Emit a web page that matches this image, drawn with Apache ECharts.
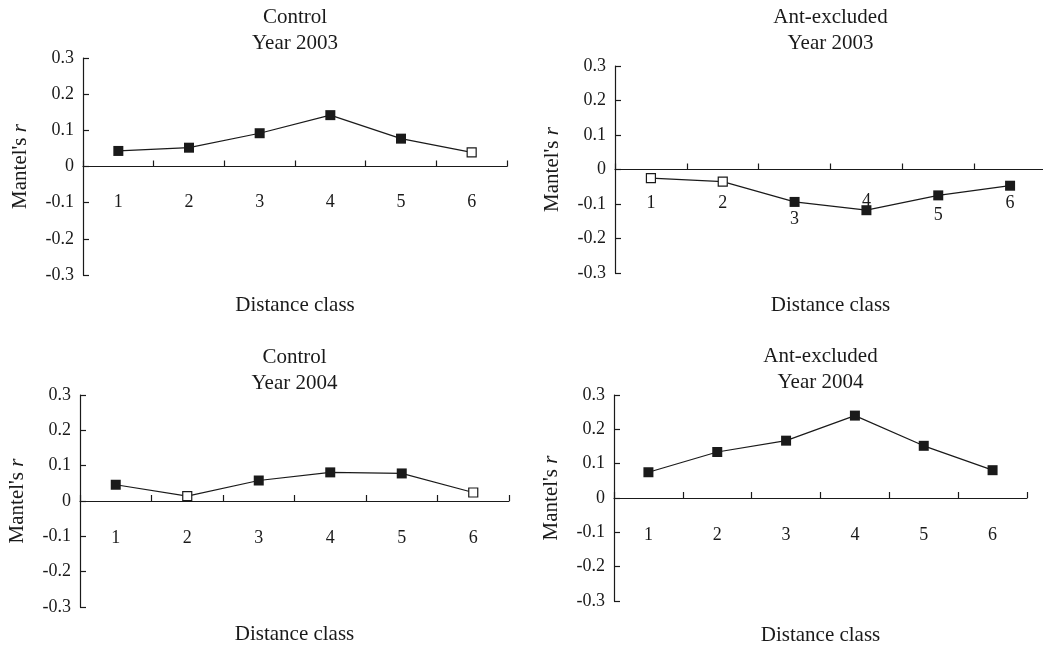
<!DOCTYPE html>
<html>
<head>
<meta charset="utf-8">
<script src="https://cdn.jsdelivr.net/npm/echarts@6/dist/echarts.min.js"></script>
<style>
  html, body { margin: 0; padding: 0; background: #fff; }
  #chart { width: 1043px; height: 645px; }
</style>
</head>
<body>
<div id="chart"></div>
<script>
// --- DATEN ---
const distanceClasses = ['1', '2', '3', '4', '5', '6'];
const yTicks = [-0.3, -0.2, -0.1, 0, 0.1, 0.2, 0.3];

// Mantel's r je Distanzklasse (gefuellt = signifikant, offen = nicht signifikant)
const control2003 = [0.043, 0.052, 0.092, 0.142, 0.077, 0.039];
const control2003Sig = [true, true, true, true, true, false];

const antExcl2003 = [-0.025, -0.035, -0.094, -0.118, -0.075, -0.047];
const antExcl2003Sig = [false, false, true, true, true, true];

const control2004 = [0.046, 0.014, 0.058, 0.081, 0.078, 0.024];
const control2004Sig = [true, false, true, true, true, false];

const antExcl2004 = [0.075, 0.134, 0.167, 0.240, 0.152, 0.081];
const antExcl2004Sig = [true, true, true, true, true, true];

// --- LAYOUT ---
const FONT = '"Liberation Serif", "Times New Roman", serif';
const INK = '#1a1a1a';
const Y_MIN = yTicks[0];
const Y_MAX = yTicks[yTicks.length - 1];

const panels = [
  { title: 'Control\nYear 2003', values: control2003, sig: control2003Sig,
    left: 83, top: 58, width: 424, height: 217, titleTop: 4, nameGap: 128, labelMargin: 27 },
  { title: 'Ant-excluded\nYear 2003', values: antExcl2003, sig: antExcl2003Sig,
    left: 615, top: 66, width: 431, height: 207, titleTop: 4, nameGap: 125, labelMargin: 25,
    labelShift: { '3': 16, '4': -2, '5': 12 } },
  { title: 'Control\nYear 2004', values: control2004, sig: control2004Sig,
    left: 80, top: 395, width: 429, height: 212, titleTop: 344, nameGap: 123, labelMargin: 28 },
  { title: 'Ant-excluded\nYear 2004', values: antExcl2004, sig: antExcl2004Sig,
    left: 614, top: 395, width: 413, height: 206, titleTop: 343, nameGap: 127, labelMargin: 28 }
];

// Beschriftung/Name der x-Achse sitzen in v6 am Gitterrand, nicht an der Null-Linie
// -> Abstand von der Null-Linie zum unteren Rand abziehen
function zeroToBottom(p) {
  return p.height * (0 - Y_MIN) / (Y_MAX - Y_MIN);
}

const chart = echarts.init(document.getElementById('chart'), null, { renderer: 'canvas' });

const option = {
  backgroundColor: '#fff',
  animation: false,
  textStyle: { fontFamily: FONT, color: INK },
  title: panels.map(p => ({
    text: p.title,
    left: p.left + p.width / 2,
    top: p.titleTop,
    textAlign: 'center',
    padding: 0,
    textStyle: { fontFamily: FONT, fontSize: 21, fontWeight: 'normal', color: INK, lineHeight: 26 }
  })),
  grid: panels.map(p => ({
    left: p.left, top: p.top, width: p.width, height: p.height,
    containLabel: false, outerBoundsMode: 'none'
  })),
  xAxis: panels.map((p, i) => ({
    type: 'category',
    gridIndex: i,
    data: distanceClasses.map(c => {
      const shift = p.labelShift && p.labelShift[c];
      return shift ? { value: c, textStyle: { padding: [shift, 0, 0, 0] } } : c;
    }),
    boundaryGap: true,
    name: 'Distance class',
    nameLocation: 'middle',
    nameGap: p.nameGap - zeroToBottom(p),
    nameTextStyle: { fontFamily: FONT, fontSize: 21, color: INK },
    axisLine: { onZero: true, lineStyle: { color: INK, width: 1.2 } },
    axisTick: { show: true, inside: true, length: 6, interval: 0, lineStyle: { color: INK, width: 1.2 } },
    axisLabel: { interval: 0, margin: p.labelMargin - zeroToBottom(p), fontFamily: FONT, fontSize: 18, color: INK },
    splitLine: { show: false }
  })),
  yAxis: panels.map((p, i) => ({
    type: 'value',
    gridIndex: i,
    min: Y_MIN,
    max: Y_MAX,
    interval: 0.1,
    name: "Mantel's {i|r}",
    nameLocation: 'middle',
    nameGap: 52,
    nameRotate: 90,
    nameTextStyle: {
      fontFamily: FONT, fontSize: 21, color: INK,
      rich: { i: { fontFamily: FONT, fontSize: 21, fontStyle: 'italic', color: INK } }
    },
    axisLine: { show: true, onZero: false, lineStyle: { color: INK, width: 1.2 } },
    axisTick: { show: true, inside: true, length: 6, lineStyle: { color: INK, width: 1.2 } },
    axisLabel: {
      margin: 9, fontFamily: FONT, fontSize: 18, color: INK,
      formatter: v => String(+v.toFixed(1))
    },
    splitLine: { show: false }
  })),
  series: panels.map((p, i) => ({
    type: 'line',
    xAxisIndex: i,
    yAxisIndex: i,
    symbol: 'rect',
    symbolSize: 9,
    lineStyle: { color: INK, width: 1.2 },
    data: p.values.map((v, k) => ({
      value: v,
      symbolSize: p.sig[k] ? 10 : 9,
      itemStyle: p.sig[k]
        ? { color: INK, borderColor: INK, borderWidth: 0 }
        : { color: '#fff', borderColor: INK, borderWidth: 1.2 }
    }))
  }))
};

chart.setOption(option);
</script>
</body>
</html>
